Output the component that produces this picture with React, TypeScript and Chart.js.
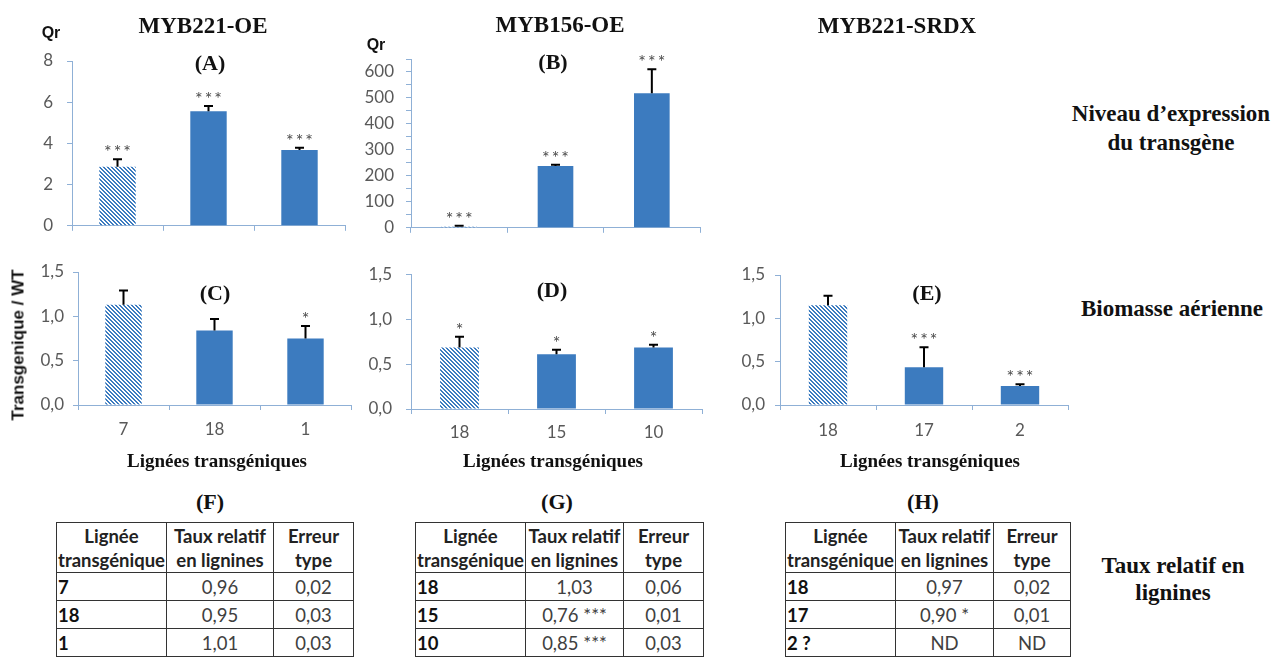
import React, { useEffect, useRef } from 'react';
import { Chart, registerables } from 'chart.js';
Chart.register(...registerables);

// ---------- data ----------
const linesA = ['7', '18', '1'];
const valuesA = [2.87, 5.56, 3.68];
const errorsA = [0.36, 0.25, 0.11];
const starsA = ['***', '***', '***'];

const linesB = ['18', '15', '10'];
const valuesB = [4, 238, 518];
const errorsB = [4, 5, 93];
const starsB = ['***', '***', '***'];

const linesC = ['7', '18', '1'];
const valuesC = [1.13, 0.84, 0.75];
const errorsC = [0.16, 0.13, 0.14];
const starsC = ['', '', '*'];

const linesD = ['18', '15', '10'];
const valuesD = [0.685, 0.61, 0.685];
const errorsD = [0.12, 0.05, 0.03];
const starsD = ['*', '*', '*'];

const linesE = ['18', '17', '2'];
const valuesE = [1.15, 0.435, 0.22];
const errorsE = [0.11, 0.23, 0.02];
const starsE = ['', '***', '***'];

const tableLinesF = ['7', '18', '1'];
const tableTauxF = ['0,96', '0,95', '1,01'];
const tableErrF = ['0,02', '0,03', '0,03'];

const tableLinesG = ['18', '15', '10'];
const tableTauxG = ['1,03', '0,76 ***', '0,85 ***'];
const tableErrG = ['0,06', '0,01', '0,03'];

const tableLinesH = ['18', '17', '2 ?'];
const tableTauxH = ['0,97', '0,90 *', 'ND'];
const tableErrH = ['0,02', '0,01', 'ND'];

// ---------- styles ----------
const BLUE = '#3C7BBF';
const AXIS = '#8FB0D6';
const TICK = '#595959';
const SERIF = '"Liberation Serif", "Times New Roman", serif';
const SANS = 'Lato, "Open Sans", sans-serif';
const ARIAL = '"Liberation Sans", Arial, sans-serif';

function makeHatch(): CanvasPattern {
  const c = document.createElement('canvas');
  c.width = 4;
  c.height = 4;
  const g = c.getContext('2d')!;
  g.fillStyle = '#ffffff';
  g.fillRect(0, 0, 4, 4);
  g.fillStyle = BLUE;
  for (let y = 0; y < 4; y++)
    for (let x = 0; x < 4; x++)
      if ((((x - y) % 4) + 4) % 4 < 2) g.fillRect(x, y, 1, 1);
  return g.createPattern(c, 'repeat')!;
}

const errPlugin = {
  id: 'errbars',
  afterDatasetsDraw(chart: any, _args: any, opts: any) {
    const meta = chart.getDatasetMeta(0);
    const ys = chart.scales.y;
    const ctx = chart.ctx as CanvasRenderingContext2D;
    const vals = chart.data.datasets[0].data as number[];
    meta.data.forEach((bar: any, i: number) => {
      const v = vals[i];
      const e = opts.errors[i];
      const yBar = ys.getPixelForValue(v);
      const yTop = ys.getPixelForValue(v + e);
      ctx.save();
      ctx.strokeStyle = '#000';
      ctx.lineWidth = 2;
      ctx.beginPath();
      ctx.moveTo(bar.x, yBar);
      ctx.lineTo(bar.x, yTop);
      ctx.moveTo(bar.x - 4.5, yTop);
      ctx.lineTo(bar.x + 4.5, yTop);
      ctx.stroke();
      const s = opts.stars[i];
      if (s) {
        ctx.fillStyle = '#4a4a4a';
        ctx.font = '18px ' + SANS;
        (ctx as any).letterSpacing = '2px';
        ctx.textAlign = 'center';
        ctx.textBaseline = 'alphabetic';
        ctx.fillText(s, bar.x + 1, yTop - 1);
      }
      ctx.restore();
    });
  },
};

type Panel = {
  labels: string[];
  values: number[];
  errors: number[];
  stars: string[];
  left: number;
  top: number;
  width: number;
  height: number;
  padTop: number;
  padRight: number;
  yWidth: number;
  xHeight: number;
  max: number;
  step: number;
  labelEvery: number;
  decimals: number;
  showX: boolean;
  barPct: number;
  yPad: number;
  xPad: number;
};

function BarPanel({ p }: { p: Panel }) {
  const ref = useRef<HTMLCanvasElement>(null);
  useEffect(() => {
    const pat = makeHatch();
    const chart = new Chart(ref.current!, {
      type: 'bar',
      data: {
        labels: p.labels,
        datasets: [
          {
            data: p.values,
            backgroundColor: p.values.map((_, i) => (i === 0 ? pat : BLUE)) as any,
            borderWidth: 0,
            barPercentage: p.barPct,
            categoryPercentage: 1,
          },
        ],
      },
      options: {
        responsive: false,
        maintainAspectRatio: false,
        animation: false,
        layout: { padding: { top: p.padTop, right: p.padRight, left: 0, bottom: 0 } },
        plugins: {
          legend: { display: false },
          tooltip: { enabled: false },
          errbars: { errors: p.errors, stars: p.stars },
        } as any,
        scales: {
          x: {
            grid: { offset: true, drawOnChartArea: false, tickLength: 5, color: AXIS },
            border: { color: AXIS },
            ticks: {
              display: p.showX,
              color: TICK,
              font: { family: SANS, size: 17 },
              padding: p.xPad,
            },
            afterFit: (s: any) => {
              s.height = p.xHeight;
            },
          },
          y: {
            min: 0,
            max: p.max,
            grid: { drawOnChartArea: false, tickLength: 5, color: AXIS },
            border: { color: AXIS },
            ticks: {
              stepSize: p.step,
              autoSkip: false,
              color: TICK,
              font: { family: SANS, size: 17 },
              padding: p.yPad,
              callback: (v: any) => {
                const n = Number(v);
                if (p.labelEvery && Math.round(n) % p.labelEvery !== 0) return '';
                return p.decimals ? n.toFixed(p.decimals).replace('.', ',') : String(Math.round(n));
              },
            },
            afterFit: (s: any) => {
              s.width = p.yWidth;
            },
          },
        },
      },
      plugins: [errPlugin as any],
    });
    return () => chart.destroy();
  }, []);
  return (
    <canvas
      ref={ref}
      width={p.width}
      height={p.height}
      style={{ position: 'absolute', left: p.left, top: p.top, width: p.width, height: p.height }}
    />
  );
}

const panels: Panel[] = [
  { labels: linesA, values: valuesA, errors: errorsA, stars: starsA, left: 0, top: 0, width: 360, height: 250, padTop: 61, padRight: 15, yWidth: 72, xHeight: 20, max: 8, step: 2, labelEvery: 0, decimals: 0, showX: false, barPct: 0.4, yPad: 14, xPad: 0 },
  { labels: linesB, values: valuesB, errors: errorsB, stars: starsB, left: 350, top: 0, width: 360, height: 250, padTop: 59, padRight: 10, yWidth: 61, xHeight: 21, max: 650, step: 50, labelEvery: 100, decimals: 0, showX: false, barPct: 0.37, yPad: 12, xPad: 0 },
  { labels: linesC, values: valuesC, errors: errorsC, stars: starsC, left: 0, top: 250, width: 360, height: 230, padTop: 22, padRight: 9, yWidth: 78, xHeight: 75, max: 1.5, step: 0.5, labelEvery: 0, decimals: 1, showX: true, barPct: 0.4, yPad: 9, xPad: 9 },
  { labels: linesD, values: valuesD, errors: errorsD, stars: starsD, left: 360, top: 250, width: 360, height: 230, padTop: 21, padRight: 18, yWidth: 51, xHeight: 71, max: 1.5, step: 0.5, labelEvery: 0, decimals: 1, showX: true, barPct: 0.4, yPad: 14, xPad: 8 },
  { labels: linesE, values: valuesE, errors: errorsE, stars: starsE, left: 720, top: 250, width: 360, height: 230, padTop: 25, padRight: 12, yWidth: 60, xHeight: 75, max: 1.5, step: 0.5, labelEvery: 0, decimals: 1, showX: true, barPct: 0.4, yPad: 10, xPad: 10 },
];

function Txt({ x, y, children, size = 22, font = SERIF, bold = true, color = '#111', rotate = 0 }: any) {
  return (
    <div
      style={{
        position: 'absolute',
        left: x,
        top: y,
        transform: `translate(-50%, -50%) rotate(${rotate}deg)`,
        fontFamily: font,
        fontSize: size,
        fontWeight: bold ? 'bold' : 'normal',
        color,
        whiteSpace: 'nowrap',
        lineHeight: 1,
      }}
    >
      {children}
    </div>
  );
}

function LigninTable({ left, top, widths, lines, taux, errs }: any) {
  const cell: React.CSSProperties = {
    border: '1px solid #333',
    padding: '0 1px',
    overflow: 'hidden',
    whiteSpace: 'nowrap',
  };
  const total = widths.reduce((a: number, b: number) => a + b, 0);
  return (
    <table
      style={{
        position: 'absolute',
        left,
        top,
        width: total,
        borderCollapse: 'collapse',
        tableLayout: 'fixed',
        fontFamily: SANS,
        fontSize: 18.5,
      }}
    >
      <colgroup>
        {widths.map((w: number, i: number) => (
          <col key={i} style={{ width: w }} />
        ))}
      </colgroup>
      <tbody>
        <tr style={{ height: 50 }}>
          {[['Lignée', 'transgénique'], ['Taux relatif', 'en lignines'], ['Erreur', 'type']].map((h, i) => (
            <td key={i} style={{ ...cell, textAlign: 'center', fontWeight: 'bold', color: '#222', lineHeight: '24px' }}>
              {h[0]}
              <br />
              {h[1]}
            </td>
          ))}
        </tr>
        {lines.map((l: string, i: number) => (
          <tr key={i} style={{ height: 28 }}>
            <td style={{ ...cell, fontWeight: 'bold', color: '#111', textAlign: 'left', lineHeight: '26px' }}>{l}</td>
            <td style={{ ...cell, textAlign: 'center', color: '#404040', lineHeight: '26px' }}>{taux[i]}</td>
            <td style={{ ...cell, textAlign: 'center', color: '#404040', lineHeight: '26px' }}>{errs[i]}</td>
          </tr>
        ))}
      </tbody>
    </table>
  );
}

export default function App() {
  return (
    <div
      style={{
        position: 'absolute',
        left: 0,
        top: 0,
        width: 1283,
        height: 657,
        background: '#fff',
        overflow: 'hidden',
      }}
    >
      {panels.map((p, i) => (
        <BarPanel key={i} p={p} />
      ))}

      <Txt x={203} y={25} size={23}>MYB221-OE</Txt>
      <Txt x={560} y={24} size={23}>MYB156-OE</Txt>
      <Txt x={897} y={25} size={23}>MYB221-SRDX</Txt>

      <Txt x={51} y={33} size={16} font={ARIAL}>Qr</Txt>
      <Txt x={376} y={45} size={16} font={ARIAL}>Qr</Txt>

      <Txt x={210} y={63}>(A)</Txt>
      <Txt x={553} y={62}>(B)</Txt>
      <Txt x={215} y={293}>(C)</Txt>
      <Txt x={552} y={290}>(D)</Txt>
      <Txt x={927} y={293}>(E)</Txt>

      <Txt x={18} y={345} size={17} font={ARIAL} rotate={-90}>
        Transgenique / WT
      </Txt>

      <Txt x={217} y={460} size={19}>Lignées transgéniques</Txt>
      <Txt x={553} y={460} size={19}>Lignées transgéniques</Txt>
      <Txt x={930} y={460} size={19}>Lignées transgéniques</Txt>

      <Txt x={1171} y={113} size={23}>Niveau d’expression</Txt>
      <Txt x={1171} y={142} size={23}>du transgène</Txt>
      <Txt x={1172} y={308} size={23}>Biomasse aérienne</Txt>
      <Txt x={1173} y={565} size={23}>Taux relatif en</Txt>
      <Txt x={1173} y={592} size={23}>lignines</Txt>

      <Txt x={210} y={502}>(F)</Txt>
      <Txt x={557} y={502}>(G)</Txt>
      <Txt x={923} y={502}>(H)</Txt>

      <LigninTable left={56} top={522} widths={[110, 107, 80]} lines={tableLinesF} taux={tableTauxF} errs={tableErrF} />
      <LigninTable left={415} top={522} widths={[110, 98, 80]} lines={tableLinesG} taux={tableTauxG} errs={tableErrG} />
      <LigninTable left={785} top={522} widths={[110, 98, 77]} lines={tableLinesH} taux={tableTauxH} errs={tableErrH} />
    </div>
  );
}
